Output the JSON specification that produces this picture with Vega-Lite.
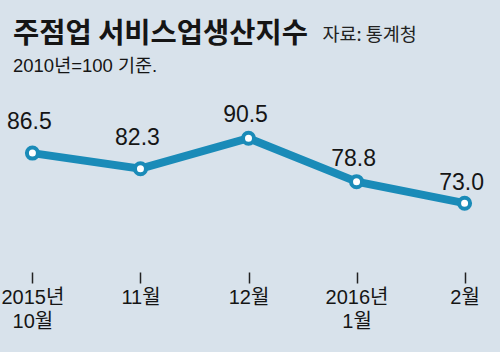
{
  "$schema": "https://vega.github.io/schema/vega-lite/v6.json",
  "width": 497,
  "height": 180,
  "autosize": {"type": "none"},
  "padding": {"left": 0, "top": 90, "right": 3, "bottom": 82},
  "background": "#d8e2eb",
  "config": {"view": {"stroke": null}},
  "title": {
    "text": "주점업 서비스업생산지수",
    "subtitle": "2010년=100 기준.",
    "anchor": "start",
    "frame": "group",
    "dx": 13,
    "offset": -50,
    "font": "Noto Sans CJK KR",
    "fontSize": 28.5,
    "fontWeight": "bold",
    "color": "#151515",
    "subtitleFont": "Liberation Sans, Noto Sans CJK KR",
    "subtitleFontSize": 18.5,
    "subtitleColor": "#151515",
    "subtitlePadding": 8
  },
  "data": {
    "values": [
      {"month": "2015년 10월", "value": 86.5},
      {"month": "11월", "value": 82.3},
      {"month": "12월", "value": 90.5},
      {"month": "2016년 1월", "value": 78.8},
      {"month": "2월", "value": 73.0}
    ]
  },
  "encoding": {
    "x": {
      "field": "month",
      "type": "ordinal",
      "sort": null,
      "scale": {"type": "point", "padding": 0.3},
      "axis": {
        "title": null,
        "labelExpr": "split(datum.label, ' ')",
        "labelAngle": 0,
        "domain": false,
        "grid": false,
        "offset": 2,
        "tickSize": 11,
        "tickWidth": 1.5,
        "tickColor": "#222222",
        "labelFont": "Liberation Sans, Noto Sans CJK KR",
        "labelFontSize": 20,
        "labelColor": "#151515",
        "labelPadding": 4,
        "labelLineHeight": 24,
        "labelBaseline": "top"
      }
    },
    "y": {
      "field": "value",
      "type": "quantitative",
      "scale": {"domain": [55, 103.5]},
      "axis": {
        "title": "자료: 통계청",
        "titleAngle": 0,
        "titleX": 322,
        "titleY": -50,
        "titleAlign": "left",
        "titleBaseline": "alphabetic",
        "titleFont": "Noto Sans CJK KR",
        "titleFontSize": 18.5,
        "titleFontWeight": "normal",
        "titleColor": "#222222",
        "labels": false,
        "ticks": false,
        "domain": false,
        "grid": false
      }
    }
  },
  "layer": [
    {"mark": {"type": "line", "color": "#1a8bb8", "strokeWidth": 8}},
    {"mark": {"type": "point", "filled": true, "fill": "white", "stroke": "#1a8bb8", "strokeWidth": 4, "size": 121, "opacity": 1}},
    {
      "transform": [{"filter": "indexof(['2015년 10월', '11월'], datum.month) >= 0"}],
      "mark": {"type": "text", "font": "Liberation Sans", "fontSize": 23, "color": "#151515", "baseline": "alphabetic", "dy": -24, "dx": -3},
      "encoding": {"text": {"field": "value", "type": "quantitative", "format": ".1f"}}
    },
    {
      "transform": [{"filter": "indexof(['12월', '2016년 1월'], datum.month) >= 0"}],
      "mark": {"type": "text", "font": "Liberation Sans", "fontSize": 23, "color": "#151515", "baseline": "alphabetic", "dy": -16, "dx": -3},
      "encoding": {"text": {"field": "value", "type": "quantitative", "format": ".1f"}}
    },
    {
      "transform": [{"filter": "datum.month == '2월'"}],
      "mark": {"type": "text", "font": "Liberation Sans", "fontSize": 23, "color": "#151515", "baseline": "alphabetic", "dy": -13, "dx": -3},
      "encoding": {"text": {"field": "value", "type": "quantitative", "format": ".1f"}}
    }
  ]
}
